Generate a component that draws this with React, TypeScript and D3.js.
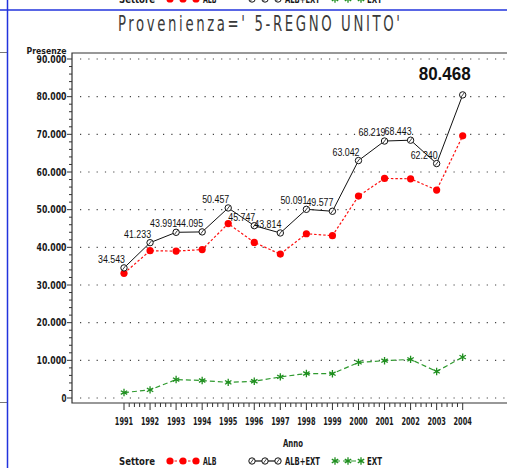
import { useEffect, useRef } from "react";
import * as d3 from "d3";

// values
const years = [1991, 1992, 1993, 1994, 1995, 1996, 1997, 1998, 1999, 2000, 2001, 2002, 2003, 2004];
const albExt = [34543, 41233, 43991, 44095, 50457, 45747, 43814, 50091, 49577, 63042, 68219, 68443, 62240, 80468];
const alb = [33100, 39100, 39000, 39400, 46300, 41300, 38200, 43600, 43100, 53600, 58300, 58200, 55200, 69600];
const ext = [1450, 2150, 4900, 4650, 4150, 4450, 5600, 6500, 6450, 9450, 9900, 10250, 7050, 10850];
const yTicks = [0, 10000, 20000, 30000, 40000, 50000, 60000, 70000, 80000, 90000];
const legendItems = ["ALB", "ALB+EXT", "EXT"];
const title = "Provenienza=' 5-REGNO UNITO'";

const FONT = "'DejaVu Sans Condensed', 'DejaVu Sans', sans-serif";
const LABEL_FONT = "'Liberation Sans Narrow', 'Liberation Sans', Arial, sans-serif";

const it = d3.formatLocale({ decimal: ",", thousands: ".", grouping: [3], currency: ["", ""] });
const fmt = it.format(",d");

const App = () => {
    const ref = useRef<SVGSVGElement>(null);

    useEffect(() => {
        const svg = d3.select(ref.current);
        svg.selectAll("*").remove();

        const W = 507;
        const frameLeft = 72;
        const frameTop = 53;
        const frameBottom = 403;

        const x = d3.scaleLinear().domain([1991, 2004]).range([124, 462.7]);
        const y = d3.scaleLinear().domain([0, 90000]).range([398, 59]);

        // small axis text, condensed + spaced like the SAS font
        const axisText = (sel: any, size: number) => sel
            .attr("font-family", FONT).attr("font-size", size)
            .attr("font-weight", 600).attr("fill", "#1a1a1a")
            .attr("lengthAdjust", "spacingAndGlyphs");

        // page decorations (cut off previous page)
        svg.append("line").attr("x1", 0).attr("x2", 7).attr("y1", 52.5).attr("y2", 52.5)
            .attr("stroke", "#777").attr("stroke-width", 1);
        svg.append("line").attr("x1", 0).attr("x2", 7).attr("y1", 402.5).attr("y2", 402.5)
            .attr("stroke", "#777").attr("stroke-width", 1);
        svg.append("line").attr("x1", 0).attr("x2", W).attr("y1", 10).attr("y2", 10)
            .attr("stroke", "#2233dd").attr("stroke-width", 1.5);
        svg.append("line").attr("x1", 7.5).attr("x2", 7.5).attr("y1", 0).attr("y2", 468)
            .attr("stroke", "#2233dd").attr("stroke-width", 1.5);

        // title: narrow glyphs, wide spacing
        const sx0 = 0.72;
        svg.append("text")
            .attr("transform", `translate(118,31) scale(${sx0},1)`)
            .attr("font-family", FONT).attr("font-size", 20.5)
            .attr("font-weight", 300)
            .attr("fill", "#3a3a3a")
            .attr("textLength", 282 / sx0).attr("lengthAdjust", "spacing")
            .text(title);

        // dotted grid
        svg.append("g").selectAll("line").data(yTicks).enter().append("line")
            .attr("x1", frameLeft + 8).attr("x2", W)
            .attr("y1", d => y(d)).attr("y2", d => y(d))
            .attr("stroke", "#444").attr("stroke-width", 1.2)
            .attr("stroke-dasharray", "1.2 7.1");

        // frame
        svg.append("path")
            .attr("d", `M${W},${frameTop}H${frameLeft}V${frameBottom}H${W}`)
            .attr("fill", "none").attr("stroke", "#333").attr("stroke-width", 1.2);

        // y axis ticks
        const minorY = d3.range(0, 90001, 2000).filter(v => v % 10000 !== 0);
        svg.append("g").selectAll("line").data(minorY).enter().append("line")
            .attr("x1", frameLeft - 3).attr("x2", frameLeft)
            .attr("y1", d => y(d)).attr("y2", d => y(d))
            .attr("stroke", "#333");
        svg.append("g").selectAll("line").data(yTicks).enter().append("line")
            .attr("x1", frameLeft - 5).attr("x2", frameLeft)
            .attr("y1", d => y(d)).attr("y2", d => y(d))
            .attr("stroke", "#333");
        axisText(svg.append("g").selectAll("text").data(yTicks).enter().append("text"), 10.5)
            .attr("x", 66.5).attr("y", d => y(d) + 3.8)
            .attr("text-anchor", "end")
            .attr("textLength", d => fmt(d).length * 5)
            .text(d => fmt(d));
        axisText(svg.append("text"), 9.5)
            .attr("x", 66.5).attr("y", 53.5)
            .attr("text-anchor", "end")
            .attr("textLength", 40)
            .text("Presenze");

        // x axis ticks
        const minorX = d3.range(1991, 2004, 0.2).filter(v => Math.abs(v - Math.round(v)) > 0.01);
        svg.append("g").selectAll("line").data(minorX).enter().append("line")
            .attr("x1", d => x(d)).attr("x2", d => x(d))
            .attr("y1", frameBottom).attr("y2", frameBottom + 4)
            .attr("stroke", "#333");
        svg.append("g").selectAll("line").data(years).enter().append("line")
            .attr("x1", d => x(d)).attr("x2", d => x(d))
            .attr("y1", frameBottom).attr("y2", frameBottom + 7)
            .attr("stroke", "#333");
        axisText(svg.append("g").selectAll("text").data(years).enter().append("text"), 10.5)
            .attr("x", d => x(d)).attr("y", 425)
            .attr("text-anchor", "middle")
            .attr("textLength", 18.3)
            .text(d => d);
        axisText(svg.append("text"), 10.5)
            .attr("x", 293).attr("y", 446.5)
            .attr("text-anchor", "middle")
            .attr("textLength", 20)
            .text("Anno");

        // series
        const line = (vals: number[]) => d3.line<number>()
            .x((_, i) => x(years[i]))
            .y(d => y(d))(vals);

        svg.append("path").attr("d", line(ext))
            .attr("fill", "none").attr("stroke", "#2f9a2f").attr("stroke-width", 1.2)
            .attr("stroke-dasharray", "5 3");
        svg.append("path").attr("d", line(alb))
            .attr("fill", "none").attr("stroke", "#ff1010").attr("stroke-width", 1.2)
            .attr("stroke-dasharray", "2.5 2");
        svg.append("path").attr("d", line(albExt))
            .attr("fill", "none").attr("stroke", "#111").attr("stroke-width", 1);

        const star = d3.symbol(d3.symbolAsterisk ?? d3.symbolCross, 38)();
        const drawMarkers = (g: any, kind: string) => {
            if (kind === "ALB") {
                g.append("circle").attr("r", 3.6).attr("fill", "#ff0000");
            } else if (kind === "ALB+EXT") {
                g.append("circle").attr("r", 3.2).attr("fill", "#fff")
                    .attr("stroke", "#111").attr("stroke-width", 1);
                g.append("line").attr("x1", -1.5).attr("x2", 1.5).attr("y1", 2).attr("y2", -2)
                    .attr("stroke", "#111").attr("stroke-width", 0.8);
            } else {
                g.append("path").attr("d", star).attr("fill", "none")
                    .attr("stroke", "#1f8f1f").attr("stroke-width", 1.3);
            }
        };

        const series: [string, number[]][] = [["EXT", ext], ["ALB", alb], ["ALB+EXT", albExt]];
        series.forEach(([kind, vals]) => {
            svg.append("g").selectAll("g").data(vals).enter().append("g")
                .attr("transform", (d, i) => `translate(${x(years[i])},${y(d)})`)
                .each(function () { drawMarkers(d3.select(this), kind); });
        });

        // value labels on ALB+EXT
        svg.append("g").selectAll("text").data(albExt.slice(0, -1)).enter().append("text")
            .attr("x", (_, i) => x(years[i]) + 1)
            .attr("y", d => y(d) - 5)
            .attr("text-anchor", "end")
            .attr("font-family", LABEL_FONT).attr("font-size", 11.5)
            .attr("fill", "#111")
            .attr("textLength", 27).attr("lengthAdjust", "spacingAndGlyphs")
            .text(d => fmt(d));
        const last = albExt.length - 1;
        svg.append("text")
            .attr("x", x(years[last]) + 8)
            .attr("y", y(albExt[last]) - 15)
            .attr("text-anchor", "end")
            .attr("font-family", "'Liberation Sans', Arial, sans-serif")
            .attr("font-size", 18).attr("font-weight", "bold")
            .attr("fill", "#111")
            .attr("textLength", 52).attr("lengthAdjust", "spacingAndGlyphs")
            .text(fmt(albExt[last]));

        // legend (bottom, and the cut-off one from previous page at top)
        const drawLegend = (base: number) => {
            const lg = svg.append("g");
            axisText(lg.append("text"), 10.5).attr("x", 119).attr("y", base)
                .attr("textLength", 36)
                .text("Settore");
            const sx = [170, 252, 335];
            const tx = [203, 285, 367];
            const tw = [13.5, 35, 15];
            const strokes = ["#ff1010", "#111", "#2f9a2f"];
            const dashes = ["2.5 2", null, "5 3"];
            legendItems.forEach((name, k) => {
                const cy = base - 4;
                lg.append("line").attr("x1", sx[k]).attr("x2", sx[k] + 26)
                    .attr("y1", cy).attr("y2", cy)
                    .attr("stroke", strokes[k]).attr("stroke-width", 1.2)
                    .attr("stroke-dasharray", dashes[k]);
                [0, 13, 26].forEach(off => {
                    const m = lg.append("g").attr("transform", `translate(${sx[k] + off},${cy})`);
                    drawMarkers(m, name);
                });
                axisText(lg.append("text"), 10.5).attr("x", tx[k]).attr("y", base)
                    .attr("textLength", tw[k])
                    .text(name);
            });
        };
        drawLegend(465);
        drawLegend(3);
    }, []);

    return (
        <svg ref={ref} width={507} height={468}
            style={{ position: "absolute", left: 0, top: 0, background: "#fff" }} />
    );
};

export default App;
